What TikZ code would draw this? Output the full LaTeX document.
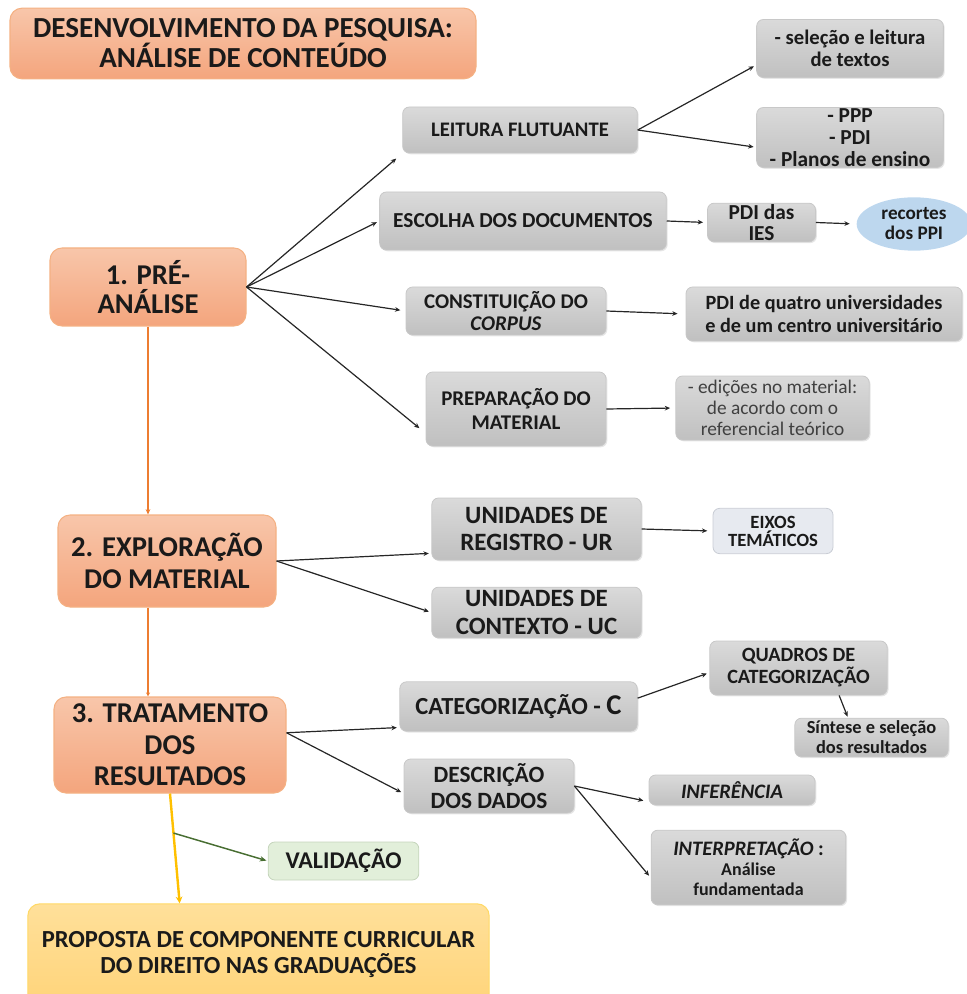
\documentclass[tikz,border=0pt]{standalone}
\usepackage{fontspec}
\setmainfont{Carlito}
\usepackage{tikz}
\usetikzlibrary{arrows.meta,shapes.geometric,shadows}

\definecolor{orTop}{RGB}{248,198,170}
\definecolor{orBot}{RGB}{244,165,125}
\definecolor{orLine}{RGB}{244,177,131}
\definecolor{orArrow}{RGB}{237,125,49}
\definecolor{gyTop}{RGB}{218,218,218}
\definecolor{gyBot}{RGB}{192,192,192}
\definecolor{gyLine}{RGB}{200,200,200}
\definecolor{blueFill}{RGB}{189,215,238}
\definecolor{eixFill}{RGB}{231,234,240}
\definecolor{eixLine}{RGB}{200,204,212}
\definecolor{grnFill}{RGB}{226,239,218}
\definecolor{grnLine}{RGB}{197,213,188}
\definecolor{grnArrow}{RGB}{72,110,50}
\definecolor{ylTop}{RGB}{255,224,154}
\definecolor{ylBot}{RGB}{255,212,122}
\definecolor{ylLine}{RGB}{255,217,102}
\definecolor{ylArrow}{RGB}{255,192,0}
\definecolor{txt}{RGB}{26,26,26}

\tikzset{
  phase/.style={draw=orLine, line width=0.8pt, rounded corners=9pt, top color=orTop, bottom color=orBot,
    align=center, inner sep=0pt, text=txt, font=\fontsize{21.5}{23.5}\selectfont\bfseries},
  gbox/.style={draw=gyLine, line width=0.6pt, rounded corners=5pt, top color=gyTop, bottom color=gyBot,
    align=center, inner sep=0pt, text=txt, drop shadow={opacity=0.2,shadow xshift=1pt,shadow yshift=-1pt}},
  link/.style={-{Stealth[length=4pt,width=3.5pt]}, line width=0.9pt, draw=black!85, shorten >=2pt}
}

\begin{document}
\begin{tikzpicture}[x=0.75pt,y=0.75pt,yscale=-1,xscale=1]
\useasboundingbox (0,0) rectangle (966,994);

% Text Node
\node (title) [phase, minimum width=349.5pt, minimum height=53pt, font=\fontsize{21.8}{22.5}\selectfont\bfseries] at (243,43.5) {DESENVOLVIMENTO DA PESQUISA:\\ANÁLISE DE CONTEÚDO};

% Phases
\node (pre) [phase, minimum width=147pt, minimum height=58.5pt, font=\fontsize{21.5}{22}\selectfont\bfseries] at (148,287) {1. PRÉ-\\ANÁLISE};
\node (expl) [phase, minimum width=163.5pt, minimum height=69pt, font=\fontsize{21.5}{24}\selectfont\bfseries] at (167,561) {2. EXPLORAÇÃO\\DO MATERIAL};
\node (trat) [phase, minimum width=174pt, minimum height=72pt] at (170,745) {3. TRATAMENTO\\DOS\\RESULTADOS};

% Text Node -- pre-analise
\node (leit) [gbox, minimum width=176pt, minimum height=34.5pt, font=\fontsize{15.5}{18}\selectfont\bfseries] at (520,130) {LEITURA FLUTUANTE};
\node (sel) [gbox, minimum width=140pt, minimum height=43.5pt, font=\fontsize{15.5}{16.5}\selectfont\bfseries] at (850,48.5) {- seleção e leitura\\de textos};
\node (ppp) [gbox, minimum width=140pt, minimum height=45pt, font=\fontsize{16}{16.3}\selectfont\bfseries] at (850,137.5) {- PPP\\- PDI\\- Planos de ensino};
\node (esc) [gbox, minimum width=215pt, minimum height=43.5pt, font=\fontsize{16}{18}\selectfont\bfseries] at (523,221) {ESCOLHA DOS DOCUMENTOS};
\node (pdiies) [gbox, minimum width=81pt, minimum height=29pt, font=\fontsize{16}{16}\selectfont\bfseries] at (761.5,222.5) {PDI das\\IES};
\node (recortes) [ellipse, fill=blueFill, minimum width=86pt, minimum height=40pt, inner sep=0pt, align=center, text=txt, font=\fontsize{14.4}{15}\selectfont\bfseries] at (914,224) {recortes\\dos PPI};
\node (const) [gbox, minimum width=150pt, minimum height=36pt, font=\fontsize{15.7}{16.5}\selectfont\bfseries] at (506,311) {CONSTITUIÇÃO DO\\\textit{CORPUS}};
\node (pdi4) [gbox, minimum width=207pt, minimum height=40.5pt, font=\fontsize{15.2}{17}\selectfont\bfseries] at (824,314) {PDI de quatro universidades\\e de um centro universitário};
\node (prep) [gbox, minimum width=135pt, minimum height=55.5pt, font=\fontsize{15.7}{18}\selectfont\bfseries] at (516,409) {PREPARAÇÃO DO\\MATERIAL};
\node (edic) [gbox, minimum width=145pt, minimum height=48pt, text=black!75, font=\fontsize{14.5}{16}\selectfont] at (772.5,408) {- edições no material:\\de acordo com o\\referencial teórico};

% Text Node -- exploracao
\node (ur) [gbox, minimum width=157pt, minimum height=46.5pt, font=\fontsize{18.7}{20.5}\selectfont\bfseries] at (536.5,529) {UNIDADES DE\\REGISTRO - UR};
\node (uc) [gbox, minimum width=157pt, minimum height=38pt, font=\fontsize{18.7}{20.5}\selectfont\bfseries] at (536.5,612.5) {UNIDADES DE\\CONTEXTO - UC};
\node (eixos) [draw=eixLine, line width=0.6pt, rounded corners=5pt, fill=eixFill, minimum width=90pt, minimum height=34pt, inner sep=0pt, align=center, text=txt, font=\fontsize{14}{13.5}\selectfont\bfseries] at (773,531) {EIXOS\\TEMÁTICOS};

% Text Node -- tratamento
\node (categ) [gbox, minimum width=178pt, minimum height=37pt, font=\fontsize{18.4}{20}\selectfont\bfseries] at (518.5,706.5) {CATEGORIZAÇÃO - {\fontsize{21.5}{20}\selectfont C}};
\node (quad) [gbox, minimum width=133pt, minimum height=40.5pt, font=\fontsize{15.2}{16.5}\selectfont\bfseries] at (798.5,668) {QUADROS DE\\CATEGORIZAÇÃO};
\node (sint) [gbox, minimum width=115pt, minimum height=29pt, font=\fontsize{13.8}{15}\selectfont\bfseries] at (871.5,737.5) {Síntese e seleção\\dos resultados};
\node (descr) [gbox, minimum width=127.5pt, minimum height=40.5pt, font=\fontsize{17.5}{19.5}\selectfont\bfseries] at (489,786) {DESCRIÇÃO\\DOS DADOS};
\node (infer) [gbox, minimum width=124.5pt, minimum height=22.5pt, font=\fontsize{15.4}{15}\selectfont\bfseries] at (732,790) {\textit{INFERÊNCIA}};
\node (interp) [gbox, minimum width=146pt, minimum height=56pt, font=\fontsize{13.5}{15}\selectfont\bfseries] at (748.5,867.5) {{\fontsize{15.4}{15}\selectfont\textit{INTERPRETAÇÃO} :}\\Análise\\fundamentada};
\node (valid) [draw=grnLine, line width=0.6pt, rounded corners=5pt, fill=grnFill, minimum width=113pt, minimum height=28.5pt, inner sep=0pt, text=txt, font=\fontsize{18}{18}\selectfont\bfseries] at (343.5,861) {VALIDAÇÃO};
\node (prop) [draw=ylLine, line width=0.8pt, rounded corners=9pt, top color=ylTop, bottom color=ylBot, minimum width=346pt, minimum height=76pt, inner sep=0pt, align=center, text=txt, font=\fontsize{18.4}{19}\selectfont\bfseries] at (258.5,954.5) {PROPOSTA DE COMPONENTE CURRICULAR\\DO DIREITO NAS GRADUAÇÕES};

%Straight Lines
\draw [link, shorten >=6pt] (pre.east) -- (leit.south west);
\draw [link] (pre.east) -- (esc.west);
\draw [link, shorten >=4pt] (pre.east) -- (const.west);
\draw [link, shorten >=6pt] (pre.east) -- (prep.195);
\draw [link] (leit.east) -- (sel.190);
\draw [link] (leit.east) -- (ppp.186);
\draw [link, shorten >=3pt] (esc.east) -- (pdiies.west);
\draw [link, shorten >=5pt] (pdiies.east) -- (recortes.west);
\draw [link, shorten >=6pt] (const.east) -- (pdi4.west);
\draw [link, shorten >=4pt] (prep.east) -- (edic.west);
\draw [link] (expl.east) -- (ur.193);
\draw [link] (expl.east) -- (uc.west);
\draw [link, shorten >=4pt] (ur.east) -- (eixos.west);
\draw [link] (trat.6) -- (categ.190);
\draw [link] (trat.6) -- (descr.185);
\draw [link] (categ.4) -- (quad.183);
\draw [link, shorten >=1pt] (quad.326) -- (sint.140);
\draw [link, shorten >=4pt] (descr.east) -- (infer.188);
\draw [link] (descr.east) -- (interp.186);

% phase links
\draw [-{Stealth[length=4pt,width=3.5pt]}, orArrow, line width=0.8pt] (pre.south) -- (pre.south |- expl.north);
\draw [-{Stealth[length=3pt,width=3pt]}, orArrow, line width=1.2pt] (pre.south |- expl.south) -- (pre.south |- trat.north);
\draw [-{Stealth[length=5pt,width=5pt]}, ylArrow, line width=1.8pt] (trat.south) -- (prop.147) coordinate[pos=0.36] (vsplit);
\draw [-{Stealth[length=5pt,width=4pt]}, grnArrow, line width=1.1pt, shorten >=1pt] (vsplit) -- (valid.west);

\end{tikzpicture}
\end{document}
